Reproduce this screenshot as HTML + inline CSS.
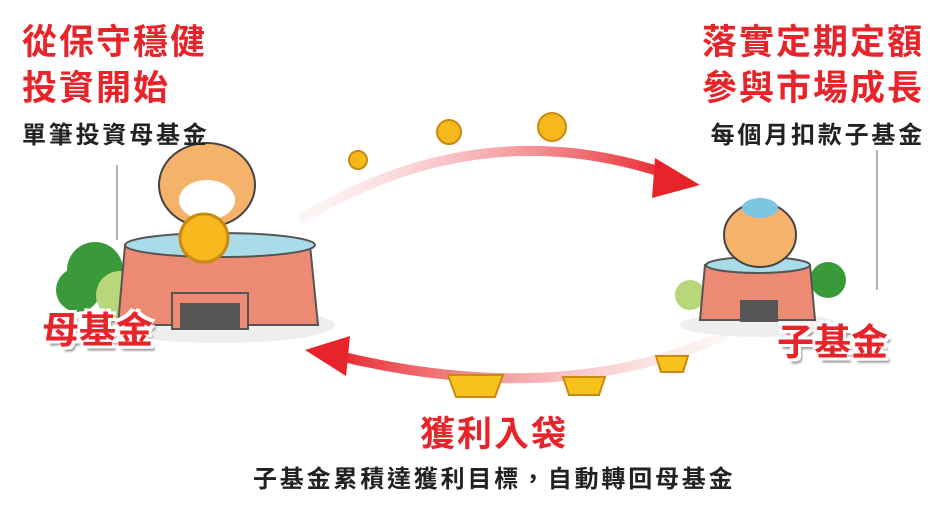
<!DOCTYPE html>
<html><head><meta charset="utf-8"><style>
html,body{margin:0;padding:0;background:#fff;width:942px;height:522px;overflow:hidden}
.t{position:absolute;font-family:"Liberation Sans","Noto Sans CJK TC",sans-serif;font-weight:bold;white-space:nowrap}
.red{color:#e8242b;font-size:35px;letter-spacing:2px;line-height:42px}
.blk{color:#222;font-size:24px;letter-spacing:2.8px}
.lbl{font-size:37px;color:#e8242b;text-shadow:0 0 3px #fff,3px 3px 0 #fff,-3px -3px 0 #fff,3px -3px 0 #fff,-3px 3px 0 #fff,4px 5px 2px #999}
</style></head><body>
<svg width="942" height="522" style="position:absolute;left:0;top:0">
<defs>
<linearGradient id="g1" x1="0" x2="1"><stop offset="0" stop-color="#fbe3e3" stop-opacity=".3"/><stop offset="1" stop-color="#e8242b"/></linearGradient>
<linearGradient id="g2" x1="1" x2="0"><stop offset="0" stop-color="#fbe3e3" stop-opacity=".3"/><stop offset="1" stop-color="#e8242b"/></linearGradient>
</defs>
<path d="M300 220 Q 480 110 670 175" stroke="url(#g1)" stroke-width="10" fill="none"/>
<polygon points="655,158 700,185 652,198" fill="#e8242b"/>
<path d="M725 335 Q 560 410 335 355" stroke="url(#g2)" stroke-width="10" fill="none"/>
<polygon points="305,350 350,336 346,376" fill="#e8242b"/>
<line x1="117" y1="165" x2="117" y2="240" stroke="#666" stroke-width="1"/>
<line x1="877" y1="150" x2="877" y2="290" stroke="#666" stroke-width="1"/>
<g fill="#f6b81c" stroke="#c88a10" stroke-width="2">
<circle cx="358" cy="160" r="9"/><circle cx="449" cy="132" r="12"/><circle cx="552" cy="127" r="14"/>
</g>
<g fill="#f7c21e" stroke="#c88a10" stroke-width="2">
<path d="M448 375 h55 l-8 22 h-39 z"/><path d="M563 377 h42 l-6 18 h-30 z"/><path d="M656 356 h32 l-5 16 h-22 z"/>
</g>
<ellipse cx="220" cy="325" rx="115" ry="18" fill="#eee"/>
<circle cx="95" cy="270" r="28" fill="#3a9a3a"/><circle cx="78" cy="290" r="22" fill="#3a9a3a"/>
<circle cx="120" cy="295" r="24" fill="#b8d77a"/>
<path d="M125 245 L310 245 L318 325 L118 325 Z" fill="#ec8a73" stroke="#555" stroke-width="2"/>
<ellipse cx="220" cy="245" rx="95" ry="12" fill="#a9dce8" stroke="#555" stroke-width="2"/>
<rect x="172" y="293" width="76" height="36" fill="#ec8a73" stroke="#555" stroke-width="2"/>
<rect x="180" y="303" width="60" height="26" fill="#555"/>
<ellipse cx="207" cy="185" rx="48" ry="42" fill="#f4b26a" stroke="#444" stroke-width="2"/>
<ellipse cx="207" cy="200" rx="28" ry="20" fill="#fff"/>
<circle cx="204" cy="238" r="24" fill="#f6b81c" stroke="#c88a10" stroke-width="3"/>
<ellipse cx="760" cy="325" rx="80" ry="12" fill="#eee"/>
<circle cx="828" cy="280" r="18" fill="#3a9a3a"/><circle cx="690" cy="295" r="15" fill="#b8d77a"/>
<path d="M705 265 L810 265 L815 320 L700 320 Z" fill="#ec8a73" stroke="#555" stroke-width="2"/>
<ellipse cx="758" cy="265" rx="52" ry="8" fill="#a9dce8" stroke="#555" stroke-width="2"/>
<ellipse cx="760" cy="235" rx="36" ry="32" fill="#f4b26a" stroke="#444" stroke-width="2"/>
<ellipse cx="760" cy="208" rx="18" ry="10" fill="#7ac6e0"/>
<rect x="740" y="300" width="38" height="22" fill="#555"/>
</svg>
<div class="t red" style="left:22px;top:22px">從保守穩健</div>
<div class="t red" style="left:22px;top:68px">投資開始</div>
<div class="t blk" style="left:22px;top:115px">單筆投資母基金</div>
<div class="t red" style="right:18px;top:22px">落實定期定額</div>
<div class="t red" style="right:18px;top:68px">參與市場成長</div>
<div class="t blk" style="right:17px;top:115px">每個月扣款子基金</div>
<div class="t red" style="left:420px;top:414px">獲利入袋</div>
<div class="t blk" style="left:253px;top:459px">子基金累積達獲利目標，自動轉回母基金</div>
<div class="t lbl" style="left:42px;top:300px">母基金</div>
<div class="t lbl" style="left:777px;top:312px">子基金</div>
</body></html>
